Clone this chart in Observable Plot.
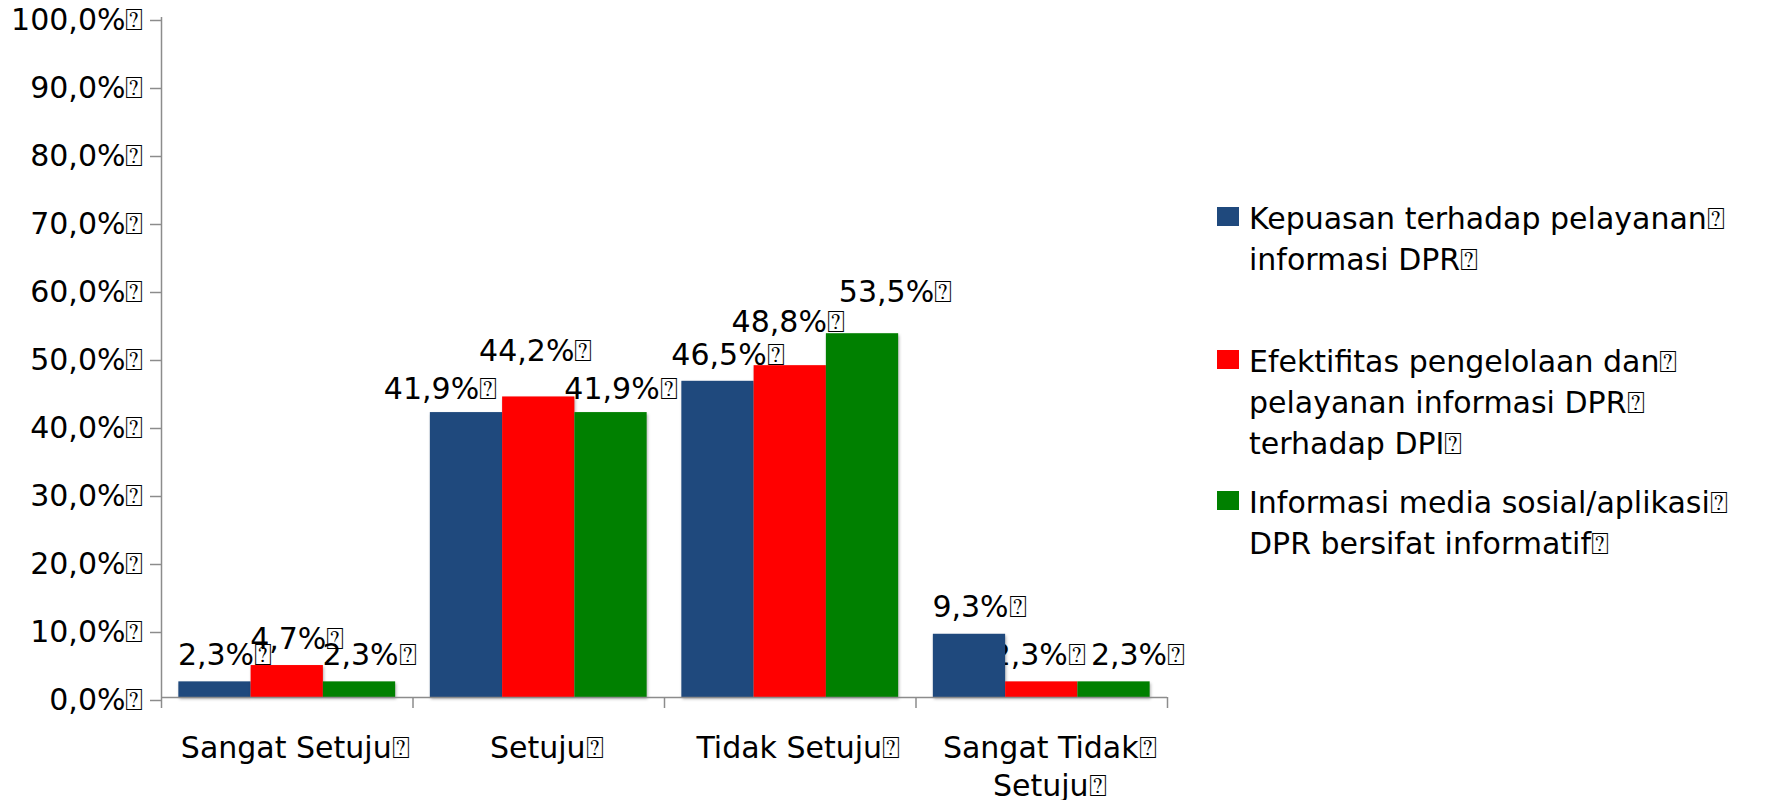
<!DOCTYPE html>
<html><head><meta charset="utf-8">
<script src="https://cdn.jsdelivr.net/npm/d3@7"></script>
<script src="https://cdn.jsdelivr.net/npm/@observablehq/plot@0.6"></script>
<style>
body{margin:0;background:#fff;font-family:"DejaVu Sans",sans-serif;}
#wrap{position:relative;width:1771px;height:800px;overflow:hidden;}
#legend{position:absolute;left:0;top:0;font-size:30px;color:#000;}
.sw{position:absolute;left:1217px;width:22px;height:19px;}
.txt{position:absolute;left:1249px;line-height:41px;white-space:nowrap;}
g[aria-label="rect"] rect{filter:drop-shadow(1px 2px 1.5px rgba(0,0,0,0.3));}
</style></head><body><div id="wrap"><div id="legend"></div></div>
<script>
const categories = ["Sangat Setuju", "Setuju", "Tidak Setuju", "Sangat Tidak Setuju"];
const categoryLines = [["Sangat Setuju"], ["Setuju"], ["Tidak Setuju"], ["Sangat Tidak", "Setuju"]];
const seriesNames = [
  "Kepuasan terhadap pelayanan informasi DPR",
  "Efektifitas pengelolaan dan pelayanan informasi DPR terhadap DPI",
  "Informasi media sosial/aplikasi DPR bersifat informatif"
];
const legendLines = [
  ["Kepuasan terhadap pelayanan", "informasi DPR"],
  ["Efektifitas pengelolaan dan", "pelayanan informasi DPR", "terhadap DPI"],
  ["Informasi media sosial/aplikasi", "DPR bersifat informatif"]
];
const kepuasan = [2.3, 41.9, 46.5, 9.3];
const efektifitas = [4.7, 44.2, 48.8, 2.3];
const informasi = [2.3, 41.9, 53.5, 2.3];
const yTicks = [0, 10, 20, 30, 40, 50, 60, 70, 80, 90, 100];
const colors = ["#1F497D", "#FF0000", "#008000"];

const TOFU = "\u2370";
const fmt = v => v.toFixed(1).replace(".", ",") + "%" + TOFU;

// layout (band-like) constants in category units
const groupPad = 0.069;
const barW = (1 - 2 * groupPad) / 3;
const allSeries = [kepuasan, efektifitas, informasi];
const rows = [];
categories.forEach((c, i) => allSeries.forEach((vals, s) => {
  rows.push({cat: c, ci: i, s, name: seriesNames[s], value: vals[i],
    x1: i + groupPad + s * barW, x2: i + groupPad + (s + 1) * barW});
}));

// label nudges (pixels) to avoid collisions, as in the original
const nudge = {"1,0": [-36, 3], "1,1": [-13, -19], "1,2": [0, 3], "2,0": [0, 1],
  "2,1": [-12, -17], "2,2": [23, -15], "3,1": [-13, 0], "3,2": [14, 0]};

const axisGray = "#8c8c8c";
const labelMarks = rows.map(r => {
  const n = nudge[r.ci + "," + r.s] || [0, 0];
  return Plot.text([r], {x: d => (d.x1 + d.x2) / 2, y: "value", text: d => fmt(d.value),
    lineAnchor: "bottom", textAnchor: "middle", dx: 10 + n[0], dy: -17 + n[1],
    fill: "black", fontSize: 30});
});

const catRows = categories.map((c, i) => ({i, label: categoryLines[i].map(l => l + TOFU).join("\n")}));

const chart = Plot.plot({
  width: 1771, height: 800,
  marginLeft: 161, marginRight: 604, marginTop: 17, marginBottom: 103,
  style: {fontFamily: "DejaVu Sans", fontSize: "30px", background: "transparent", color: "black"},
  x: {type: "linear", domain: [0, categories.length], axis: null},
  y: {domain: [0, 100], axis: null},
  marks: [
    ...labelMarks,
    Plot.rectY(rows, {x1: "x1", x2: "x2", y1: 0, y2: "value", fill: d => colors[d.s]}),
    Plot.ruleX([0], {stroke: axisGray, strokeWidth: 1.5}),
    Plot.ruleY([0], {stroke: axisGray, strokeWidth: 1.5}),
    Plot.axisY({ticks: yTicks, tickSize: 11, tickPadding: 7, stroke: axisGray, strokeWidth: 1.5,
      fill: "black", fontSize: 30, dy: 3, label: null, tickFormat: d => fmt(d)}),
    Plot.axisX({ticks: d3.range(categories.length + 1), tickSize: 11, stroke: axisGray,
      strokeWidth: 1.5, label: null, tickFormat: () => ""}),
    Plot.text(catRows, {x: d => d.i + 0.5, y: 0, text: "label", lineAnchor: "top",
      dx: 8, dy: 33, lineHeight: 1.27, fontSize: 30, fill: "black"})
  ]
});
chart.style.position = "absolute";
chart.style.left = "0";
chart.style.top = "0";
document.getElementById("wrap").prepend(chart);

const legendTops = [207, 350, 491];
const legend = document.getElementById("legend");
seriesNames.forEach((name, s) => {
  const sw = document.createElement("div");
  sw.className = "sw";
  sw.style.top = legendTops[s] + "px";
  sw.style.background = colors[s];
  legend.appendChild(sw);
  const t = document.createElement("div");
  t.className = "txt";
  t.style.top = (legendTops[s] - 9) + "px";
  t.title = name;
  t.innerHTML = legendLines[s].map(l => l + TOFU).join("<br>");
  legend.appendChild(t);
});
</script></body></html>
